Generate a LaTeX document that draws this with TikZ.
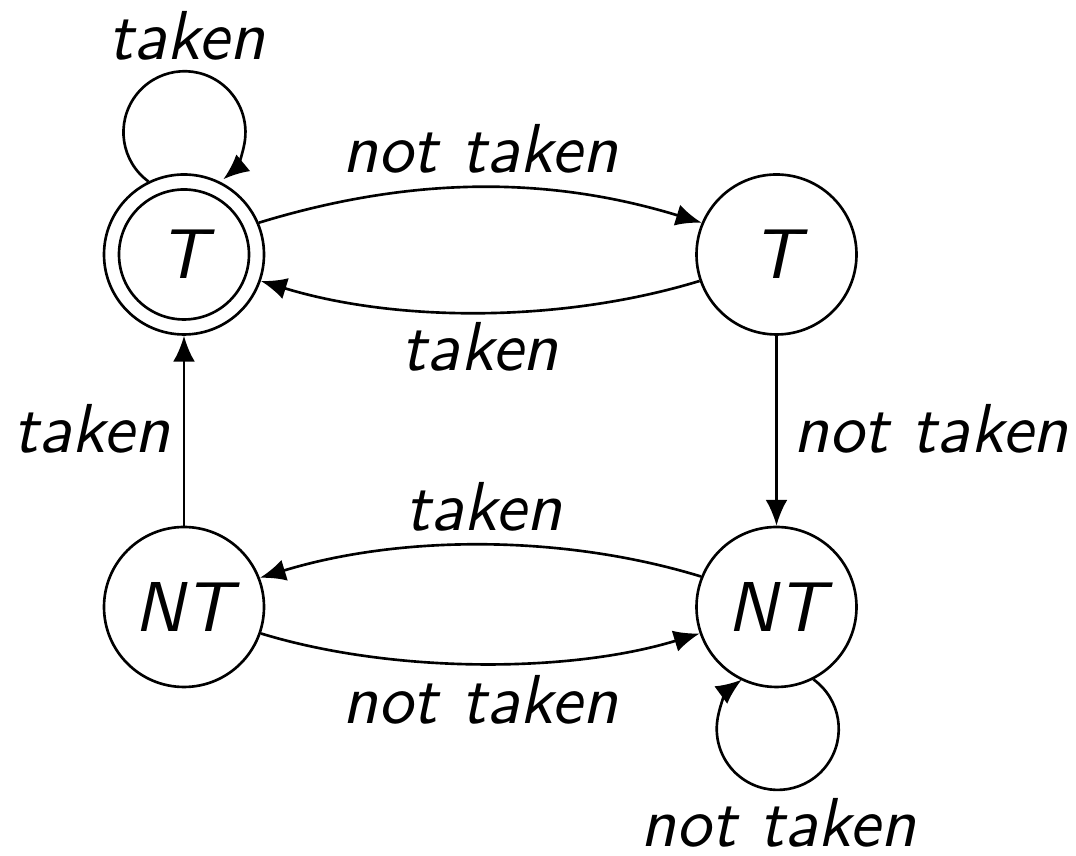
\documentclass[tikz,border=0pt]{standalone}
\usetikzlibrary{arrows.meta}
\begin{document}
\begin{tikzpicture}[x=0.1515pt,y=0.1515pt,
  state/.style={circle,draw,line width=0.4pt,minimum size=24.24pt,inner sep=0pt,
    font=\sffamily\slshape\fontsize{10.7}{13}\selectfont},
  lbl/.style={font=\sffamily\slshape\fontsize{10.5}{12.5}\selectfont,inner sep=0pt,anchor=base},
  arr/.style={-{Latex[length=3.9pt,width=3.3pt]},line width=0.4pt}]
\useasboundingbox (0,0) rectangle (1076,-856);
\node[state] (TL) at (184,-254.5) {T};
\node[state] (TR) at (776.5,-254.5) {T};
\node[state] (BL) at (184,-607) {NT};
\node[state] (BR) at (776.5,-607) {NT};
\draw[line width=0.4pt] (TL) circle[radius=65];
% horizontal transitions
\draw[arr] (TL.23) .. controls +(17:160) and +(163:160) .. (TR.157)
  node[lbl,midway,yshift=2.32pt] {not taken};
\draw[arr] (TR.199) .. controls +(197:143) and +(-17:143) .. (TL.-19)
  node[lbl,midway,yshift=-8.83pt] {taken};
\draw[arr] (BR.158.5) .. controls +(163:146) and +(17:146) .. (BL.21.5)
  node[lbl,midway,xshift=0.5pt,yshift=2.27pt] {taken};
\draw[arr] (BL.-19) .. controls +(-17:137) and +(197:137) .. (BR.199)
  node[lbl,midway,yshift=-9.09pt] {not taken};
% vertical transitions
\draw[arr] (TR) -- (BR) node[lbl,midway,xshift=23.4pt,yshift=-3.33pt] {not taken};
\draw[arr] (BL) -- (TL) node[lbl,midway,xshift=-14pt,yshift=-3.33pt] {taken};
% self loops
\draw[arr] (TL.116) arc[start angle=233.7,end angle=-50.4,radius=61];
\node[lbl] (lt) at (187,-60) {taken};
\draw[arr] (BR.-63) arc[start angle=54.2,end angle=-233.7,radius=61];
\node[lbl] (lb) at (778.5,-847) {not taken};
\end{tikzpicture}
\end{document}
